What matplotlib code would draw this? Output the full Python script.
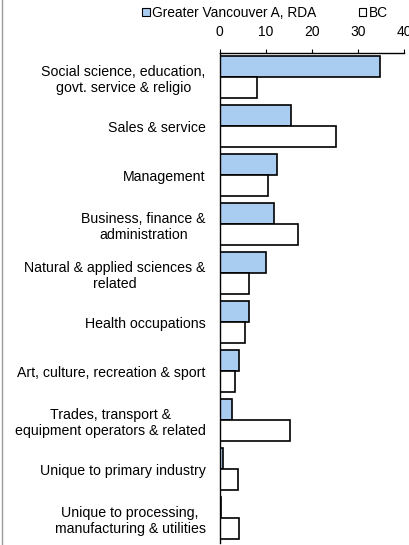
import numpy as np
import matplotlib.pyplot as plt
from matplotlib.patches import Patch
from matplotlib.lines import Line2D

plt.rcParams['font.family'] = ['Liberation Sans', 'DejaVu Sans']

CATEGORIES = [
    "Social science, education,\ngovt. service & religio",
    "Sales & service",
    "Management",
    "Business, finance &\nadministration",
    "Natural & applied sciences &\nrelated",
    "Health occupations",
    "Art, culture, recreation & sport",
    "Trades, transport &\nequipment operators & related",
    "Unique to primary industry",
    "Unique to processing,\nmanufacturing & utilities",
]

rda = [34.8, 15.4, 12.4, 11.8, 10.1, 6.3, 4.3, 2.7, 0.7, 0.4]
bc = [8.1, 25.2, 10.4, 17.1, 6.3, 5.4, 3.4, 15.3, 3.9, 4.1]

SERIES = ["Greater Vancouver A, RDA", "BC"]
BLUE = "#A9CDF1"

fig = plt.figure(figsize=(4.09, 5.45), dpi=100)
ax = fig.add_axes([0.537, 0.004, 0.451, 0.899])

y = np.arange(len(CATEGORIES))
h = 0.43
ax.barh(y - h / 2, rda, height=h, color=BLUE, edgecolor="black", linewidth=1.2)
ax.barh(y + h / 2, bc, height=h, color="white", edgecolor="black", linewidth=1.2)

ax.set_xlim(0, 40)
ax.set_ylim(len(CATEGORIES) - 0.5, -0.5)
ax.set_xticks([0, 10, 20, 30, 40])
ax.xaxis.tick_top()
ax.tick_params(axis="x", direction="out", length=3, width=0.8, pad=7, labelsize=10)
ax.set_yticks(y)
ax.set_yticklabels(CATEGORIES, ha="right", multialignment="center",
                   fontsize=10.2, linespacing=1.2)
ax.tick_params(axis="y", length=0, pad=10)

ax.spines["right"].set_visible(False)
ax.spines["bottom"].set_visible(False)
ax.spines["top"].set_linewidth(1.0)
ax.spines["left"].set_linewidth(1.0)

# chart area border on the left
fig.add_artist(Line2D([0.005, 0.005], [0, 1], transform=fig.transFigure,
                      color="#999999", linewidth=1.0))

handles = [Patch(facecolor=BLUE, edgecolor="black", linewidth=0.8),
           Patch(facecolor="white", edgecolor="black", linewidth=0.8)]
fig.legend(handles, SERIES, loc="upper left", bbox_to_anchor=(0.333, 1.0),
           ncol=2, frameon=False, fontsize=9.9, handlelength=0.55, handleheight=0.55,
           handletextpad=0.15, columnspacing=3.1, borderaxespad=0.05)

fig.savefig("out.png", dpi=100)
